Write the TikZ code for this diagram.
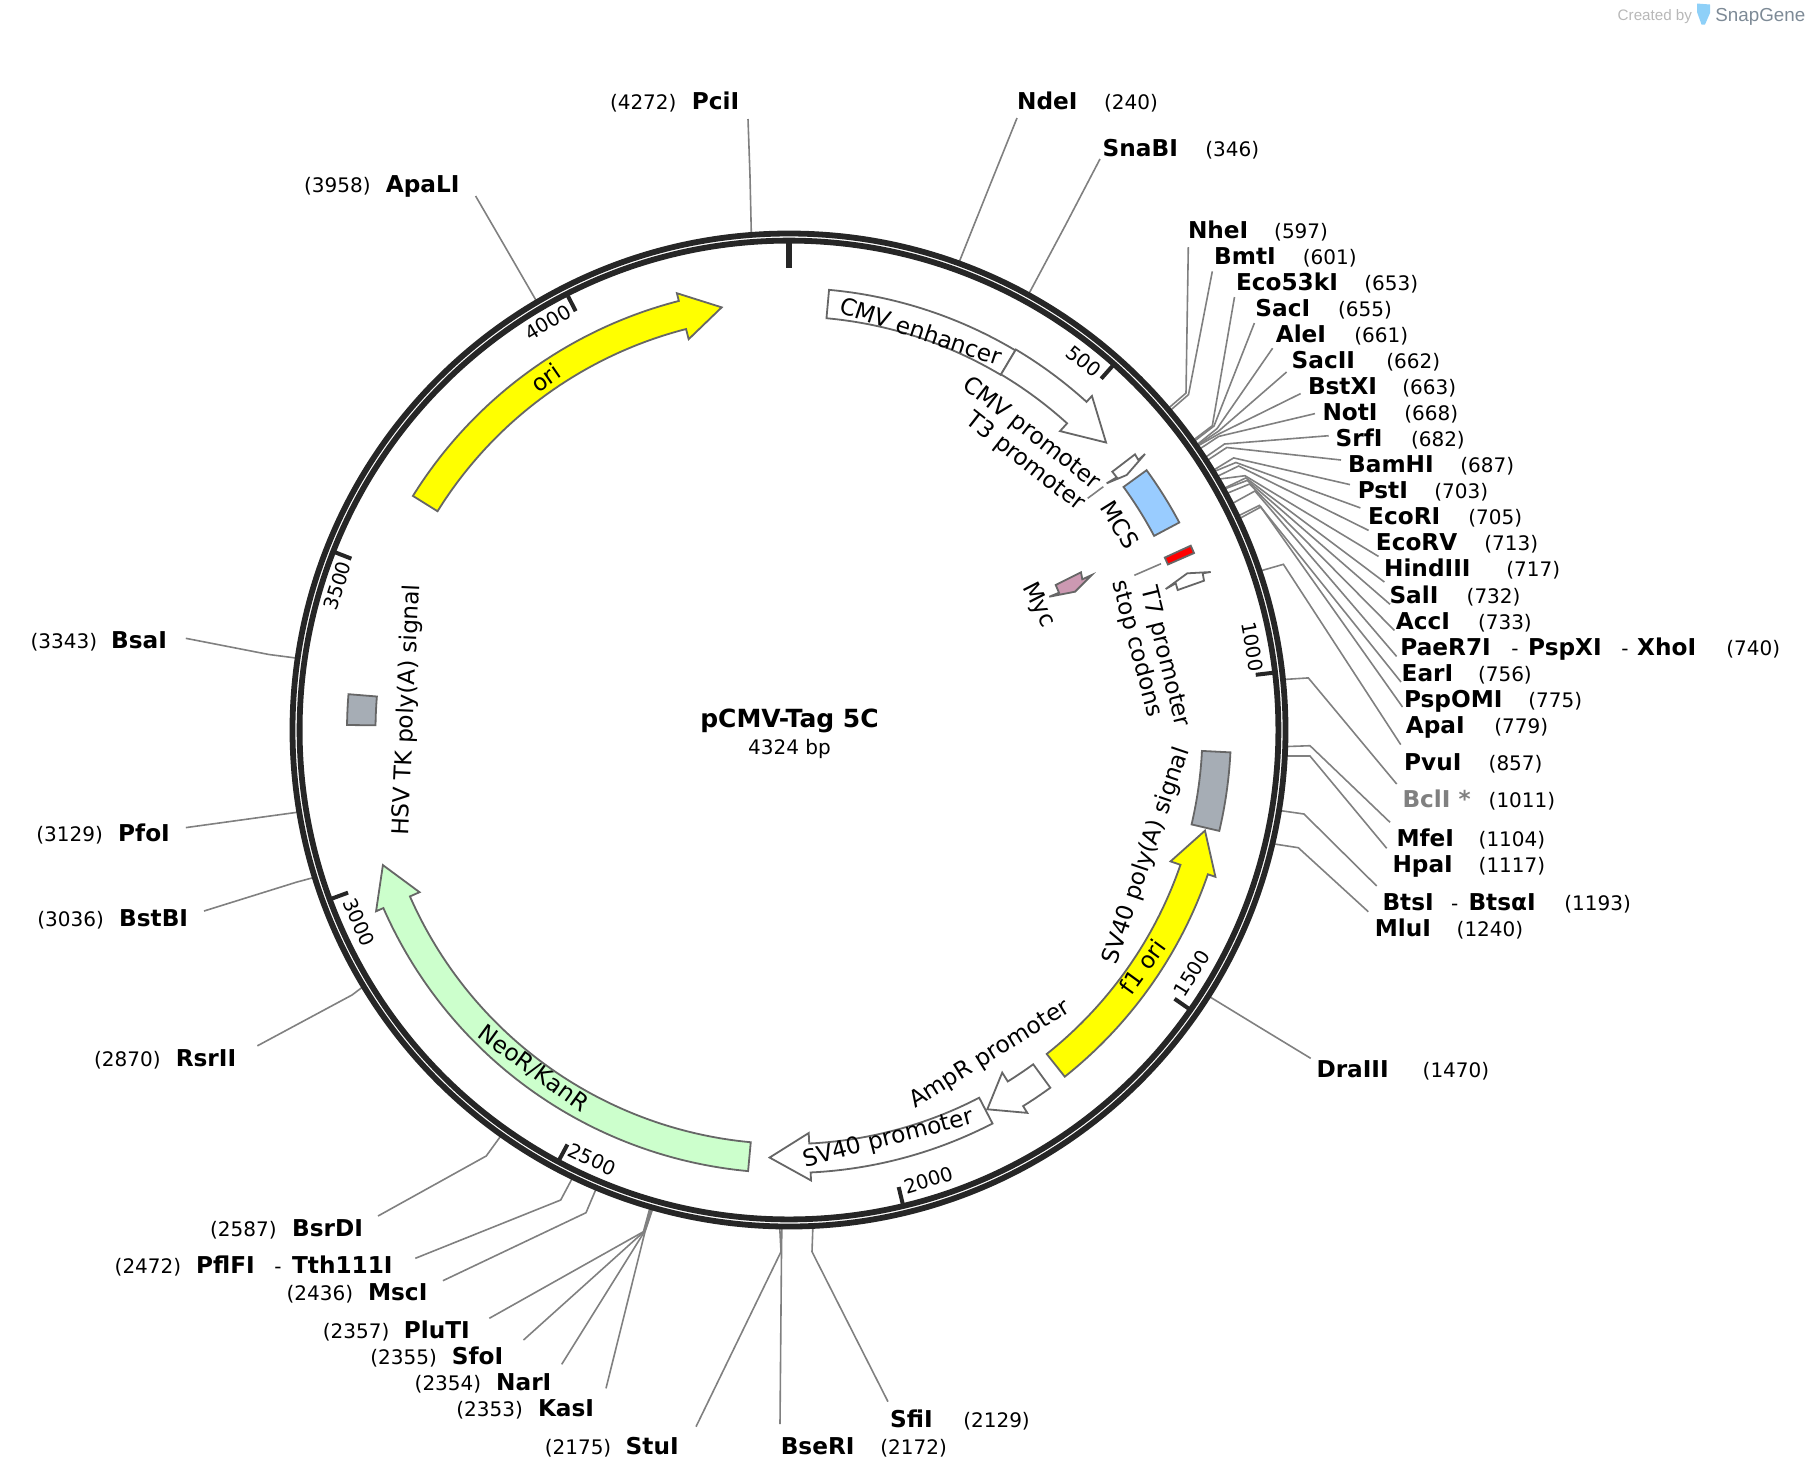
\documentclass[tikz,border=0pt]{standalone}
\usepackage{fontspec}
\setmainfont{DejaVu Sans}
\newfontfamily\markfont{Liberation Sans}
\usepackage{xcolor}
\usetikzlibrary{positioning}
\definecolor{pgring}{RGB}{38,38,38}
\definecolor{pgline}{RGB}{128,128,128}
\definecolor{pgedge}{RGB}{102,102,102}
\definecolor{pgyellow}{RGB}{255,255,0}
\definecolor{pggreen}{RGB}{204,255,204}
\definecolor{pgblue}{RGB}{153,204,255}
\definecolor{pggrey}{RGB}{166,173,181}
\definecolor{pgmauve}{RGB}{204,153,178}
\definecolor{pgmark}{RGB}{184,184,184}
\definecolor{pgmarkdark}{RGB}{125,138,150}
\definecolor{pgicon}{RGB}{142,208,248}
\tikzstyle{ring} = [line width=2.9pt, color=pgring]
\tikzstyle{tickmark} = [line width=2pt, color=pgring]
\tikzstyle{siteline} = [line width=0.8pt, color=pgline]
\tikzstyle{feat} = [line width=0.9pt, draw=pgedge, line join=miter]
\tikzstyle{sitename} = [anchor=base west, inner xsep=2pt, inner ysep=1pt, text height=8.6pt, text depth=3pt, xshift=-2.6pt, yshift=-3.9pt, font=\fontsize{11.6}{14}\selectfont\bfseries]
\tikzstyle{sitenum} = [anchor=base west, inner sep=0pt, xshift=-0.5pt, yshift=-3.9pt, font=\fontsize{10}{12}\selectfont]
\tikzstyle{featlabel} = [inner sep=0pt, font=\fontsize{11.6}{14}\selectfont]
\tikzstyle{ticklabel} = [inner sep=0pt, font=\fontsize{9.8}{12}\selectfont]
% degrees per base pair is 360/4324
\newcommand{\bpdeg}{0.0832562}
% clockwise or counter-clockwise arc arrow: colour, tail, shoulder, tip
\newcommand{\featarrow}[4]{\draw[feat, fill=#1] ({#2-90}:443) arc[start angle={#2-90}, end angle={#3-90}, radius=443] -- ({#3-90}:451) -- ({#4-90}:428) -- ({#3-90}:403.5) -- ({#3-90}:414) arc[start angle={#3-90}, end angle={#2-90}, radius=414] -- cycle;}
\newcommand{\featbox}[3]{\draw[feat, fill=#1] ({#2-90}:442) arc[start angle={#2-90}, end angle={#3-90}, radius=442] -- ({#3-90}:413.5) arc[start angle={#3-90}, end angle={#2-90}, radius=413.5] -- cycle;}

\begin{document}
\begin{tikzpicture}[x=0.5pt, y=-0.5pt]
\useasboundingbox (0,0) rectangle (1810,1480);

% Restriction sites
\foreach \nm/\nx/\numx/\ly/\bp/\kx/\ky/\ex/\ey in {
  NheI/1188.8/1274.8/230.5/597/1186/393/1188.3/247,
  BmtI/1215/1303.4/256.5/601/1188.5/394.6/1212.3/271.4,
  Eco53kI/1236.8/1365/282.6/653/1212.3/425.7/1234.5/297,
  SacI/1256.2/1338.7/308.6/655/1214/426/1254.4/323,
  AleI/1276.6/1355/334.7/661/1217/428.6/1272.6/348.2,
  SacII/1292.5/1387/360.7/662/1218.7/431/1286.6/372,
  BstXI/1308.8/1403/386.8/663/1218.7/434/1300.6/393.6,
  NotI/1323.3/1405/412.8/668/1218.7/436.4/1315/413.6,
  SrfI/1336.4/1411.6/438.9/682/1224.5/444/1328.7/435.7,
  BamHI/1349/1461/464.9/687/1226.8/447.5/1341/460,
  PstI/1358.6/1435/491/703/1233.6/457.9/1350/484.6,
  EcoRI/1369/1469/517/705/1235.9/462.5/1360.4/507.9,
  EcoRV/1376.7/1485/543.1/713/1238.6/466/1368.6/530.4,
  HindIII/1384.9/1507/569.1/717/1245/475.7/1378.5/556.4,
  SalI/1390.3/1467.3/595.2/732/1245.8/477.9/1384.4/582,
  AccI/1396.6/1478.6/621.2/733/1247.2/480.4/1390/604.3,
  PaeR7I/1401.2/1727/647.3/740/1249.5/484/1394.4/630.4,
  EarI/1402.5/1478.6/673.3/756/1254.9/491/1396.6/656.4,
  PspOMI/1404.8/1529/699.4/775/1259.4/505.4/1401/682,
  ApaI/1406.6/1495/725.4/779/1260.8/507/1402.5/707,
  PvuI/1405/1489.3/762.7/857/1283.4/564.3/1400.7/744.6,
  MfeI/1397.3/1479.3/838.3/1104/1310/745.7/1390/822.3,
  HpaI/1393.3/1479.3/864.3/1117/1310/756/1386.7/848.3,
  BtsI/1383.3/1565/902.3/1193/1304/814/1376.7/886,
  MluI/1375.7/1457.3/928.3/1240/1298.3/847.7/1368.3/911.7,
  DraIII/1317.3/1423.3/1070/1470/1260/1027.5/1310.7/1058.3,
  NdeI/1018/1104.7/101.6/240/988/190/1017/118,
  SnaBI/1103.5/1206/148.3/346/1065/226/1100/159,
  PciI/692.6/610.6/101.6/4272/750/176/748/119,
  ApaLI/386.7/304.7/184.7/3958/505.8/248/475.6/196,
  BsaI/112/31.2/640.6/3343/269/654.5/185.8/638.3,
  PfoI/119/37/833.4/3129/270/816/185.8/827.6,
  BstBI/120/38/918.8/3036/297/882/204/911,
  RsrII/176.6/94.7/1058.5/2870/352/995/257.4/1045.8,
  BsrDI/292.9/210.7/1228.3/2587/486.2/1156/378/1216,
  PflFI/197/115.3/1266/2472/560.7/1200/415.3/1258.3,
  MscI/368.9/287.2/1292.7/2436/586/1212.7/442.9/1280.7,
  PluTI/404.6/323.5/1330.7/2357/643.4/1231.7/489.3/1318.3,
  SfoI/452.6/371/1356.7/2355/643.9/1231.7/523.5/1340,
  NarI/497/415.3/1382.7/2354/644.4/1231.7/561.7/1364.3,
  KasI/538.8/457/1408.3/2353/645/1231.7/606/1388.3,
  StuI/626.5/545.4/1446.7/2175/781/1251.7/696/1426.7,
  BseRI/781.6/881/1446.7/2172/781.5/1251.7/780/1424,
  SfiI/891/963.9/1420/2129/812/1251.7/888/1401.7}{
  \pgfmathsetmacro{\sitea}{\bp*\bpdeg-90}
  \node[sitename] (\nm) at (\nx,\ly) {\nm};
  \node[sitenum] (\nm num) at (\numx,\ly) {(\bp)};
  \coordinate (\nm ring) at ([shift={(789,730)}]\sitea:497);
  \coordinate (\nm knee) at (\kx,\ky);
  \coordinate (\nm end) at (\ex,\ey);
  \draw[siteline] (\nm ring) -- (\nm knee) -- (\nm end);
}

% Site with the grey name
\node[sitename, text=pgline] (BclI) at (1403.3,800) {BclI *};
\node[sitenum] (BclI num) at (1489.3,800) {(1011)};
\coordinate (BclI ring) at ([shift={(789,730)}]{1011*\bpdeg-90}:497);
\coordinate (BclI knee) at (1308.3,677.9);
\coordinate (BclI end) at (1396.7,784);
\draw[siteline] (BclI ring) -- (BclI knee) -- (BclI end);

% Names that share a site
\node[sitenum] (paedash) at (1512,647.3) {-};
\node[sitename] (PspXI) at (1529,647.3) {PspXI};
\node[sitenum] (xhodash) at (1622,647.3) {-};
\node[sitename] (XhoI) at (1638,647.3) {XhoI};
\node[sitenum] (btsdash) at (1451.7,902.3) {-};
\node[sitename] (BtsaI) at (1469.3,902.3) {BtsαI};
\node[sitenum] (pfldash) at (275,1266) {-};
\node[sitename] (Tth111I) at (292.9,1266) {Tth111I};

% Ring, ticks and features
\begin{scope}[shift={(789,730)}]
\draw[ring] (0,0) circle[radius=496.5];
\draw[ring] (0,0) circle[radius=489.4];
\draw[line width=3pt, color=pgring] (-90:487) -- (-90:462);
\foreach \t in {500,1000,...,4000}
  \draw[tickmark] ({\t*\bpdeg-90}:487) -- ({\t*\bpdeg-90}:470);

\featarrow{pgyellow}{-58.1}{-14.4}{-9.05}
\featbox{white}{5.2}{30.8}
\featarrow{white}{30.8}{42.2}{47.8}
\featbox{pgblue}{54}{62}
\featbox{red}{65.35}{66.4}
\featbox{pggrey}{92.9}{103.2}
\featarrow{pgyellow}{141.5}{109}{103.6}
\featarrow{white}{143.85}{148.1}{152.4}
\featarrow{white}{152.65}{177.2}{182.6}
\featarrow{pggreen}{185.3}{246.3}{251.6}
\featbox{pggrey}{270.65}{274.65}
\end{scope}

% Short features
\draw[feat, fill=white] (1145,454) -- (1126.7,475) -- (1106.7,483.3) -- (1116.7,477.3) -- (1112.3,471.7) -- (1135,454.3) -- (1138.3,460) -- cycle;
\draw[feat, fill=white] (1210.7,572) -- (1187.3,573.3) -- (1165.7,589) -- (1175.7,583.3) -- (1177.7,590) -- (1204,580.7) -- (1202.7,573.3) -- cycle;
\draw[feat, fill=pgmauve] (1091.7,575) -- (1082.3,579.3) -- (1081,572.3) -- (1055.7,585) -- (1059,592.7) -- (1049.3,596.7) -- (1075,591.7) -- cycle;

% Tick labels
\foreach \t/\tx/\ty/\trot in {
  500/1083.9/361.3/-39,
  1000/1252.7/646.7/-80,
  1500/1191.7/973.3/58,
  2000/928.3/1180/17,
  2500/592.3/1159.3/-25,
  3000/359/922.3/-66,
  3500/337.3/585.7/72,
  4000/547.7/322.3/31}
  \node[ticklabel, rotate=\trot] (tick\t) at (\tx,\ty) {\t};

% Feature labels
\node[featlabel, rotate=-18.5] (cmvenh) at (921,331) {CMV enhancer};
\node[featlabel, rotate=-38] (cmvpro) at (1031.4,433.6) {CMV promoter};
\node[featlabel, rotate=-38] (t3pro) at (1025,462.4) {T3 promoter};
\node[featlabel, rotate=-58] (mcs) at (1120,525) {MCS};
\node[featlabel, rotate=-63] (myc) at (1038.3,605) {Myc};
\node[featlabel, rotate=-75] (stopcod) at (1136.7,649) {stop codons};
\node[featlabel, rotate=-76] (t7pro) at (1164.7,656.7) {T7 promoter};
\node[featlabel, rotate=71.3] (sv40sig) at (1146.7,855.7) {SV40 poly(A) signal};
\node[featlabel, rotate=54] (f1ori) at (1142.3,966.7) {f1 ori};
\node[featlabel, rotate=32] (amppro) at (990,1055) {AmpR promoter};
\node[featlabel, rotate=14.5] (sv40pro) at (888.3,1139.3) {SV40 promoter};
\node[featlabel, rotate=-36] (neokan) at (533.3,1069) {NeoR/KanR};
\node[featlabel, rotate=87.4] (hsvsig) at (407.3,710) {HSV TK poly(A) signal};
\node[featlabel, rotate=34.6] (orilab) at (545.7,377.7) {ori};

% Leaders
\coordinate (t3a) at (1087.7,498.3);
\coordinate (t3b) at (1103.3,486.7);
\coordinate (stopa) at (1134.3,575.3);
\coordinate (stopb) at (1161,563.7);
\draw[siteline] (t3a) -- (t3b);
\draw[siteline] (stopa) -- (stopb);

% Title
\node[inner sep=0pt, font=\fontsize{12.5}{15}\selectfont\bfseries] (title) at (789.5,721.3) {pCMV-Tag 5C};
\node[inner sep=0pt, below=2.5pt of title, font=\fontsize{10}{12}\selectfont] (size) {4324 bp};

% Logo
\node[anchor=west, inner sep=0pt, text=pgmark, font=\markfont\fontsize{7.6}{9}\selectfont] (created) at (1617.3,16.7) {Created by};
\node[anchor=west, inner sep=0pt, text=pgmarkdark, font=\markfont\fontsize{9.4}{11}\selectfont] (snapgene) at (1715,16.7) {SnapGene};
\fill[pgicon] (1697,3.5) -- (1710,4.5) -- (1710,13) -- (1705,24.5) -- (1701.5,24.5) -- (1697,12) -- cycle;
\end{tikzpicture}
\end{document}
